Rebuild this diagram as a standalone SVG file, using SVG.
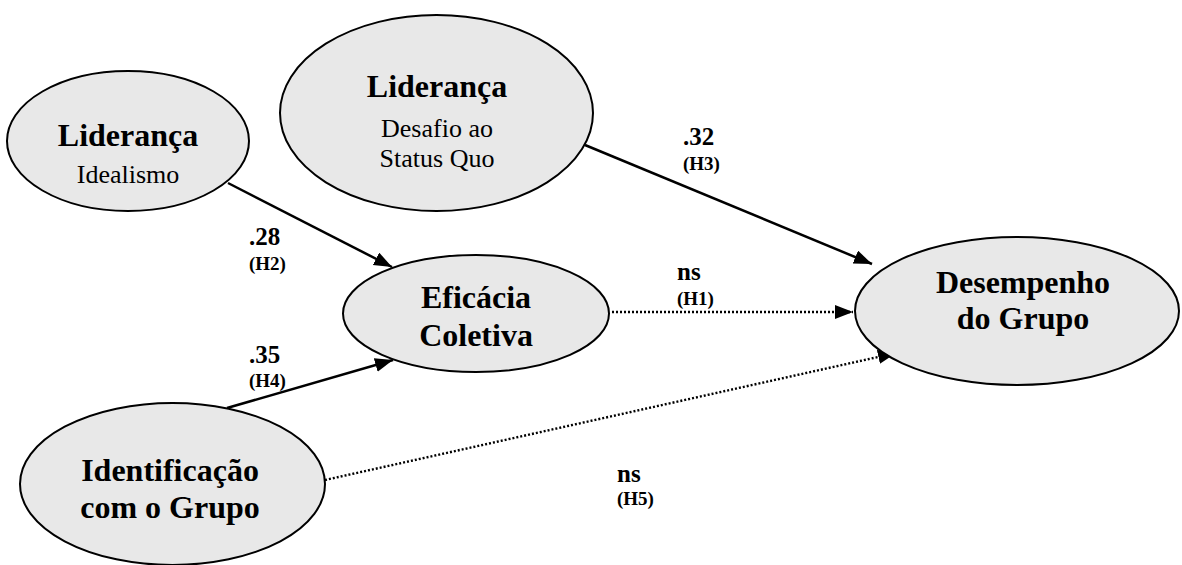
<svg xmlns="http://www.w3.org/2000/svg" width="1182" height="565" viewBox="0 0 1182 565">
<style>
.node ellipse{fill:#e8e8e8;stroke:#000;stroke-width:2}
.t{font-family:"Liberation Serif","Times New Roman",serif;text-anchor:middle;fill:#000}
.b{font-weight:bold;font-size:32px}
.r{font-size:26px}
.lbl{font-family:"Liberation Serif","Times New Roman",serif;font-weight:bold;fill:#000}
.v{font-size:25px}
.h{font-size:19px}
.solid{stroke:#000;stroke-width:2.5;fill:none}
.dot{stroke:#000;stroke-width:2.4;fill:none;stroke-dasharray:2 2}
</style>
<defs>
<marker id="ah" markerUnits="userSpaceOnUse" markerWidth="20" markerHeight="16" refX="18" refY="7" orient="auto">
<path d="M0,0 L18,7 L0,14 z" fill="#000"/>
</marker>
</defs>
<rect width="1182" height="565" fill="#fff"/>
<g id="connectors">
<line class="solid" x1="228" y1="183" x2="392" y2="267" marker-end="url(#ah)"/>
<line class="solid" x1="227" y1="408" x2="393" y2="360" marker-end="url(#ah)"/>
<line class="solid" x1="585" y1="145" x2="872" y2="264" marker-end="url(#ah)"/>
<line class="dot" x1="612" y1="312" x2="853" y2="312" marker-end="url(#ah)"/>
<line class="dot" x1="325" y1="480" x2="896" y2="353" marker-end="url(#ah)"/>
</g>
<g id="lider-idealismo" class="node">
<ellipse cx="128" cy="141" rx="121" ry="70"/>
<text class="t b" x="128" y="146">Liderança</text>
<text class="t r" x="128" y="183">Idealismo</text>
</g>
<g id="lider-desafio" class="node">
<ellipse cx="436.5" cy="113" rx="156.5" ry="98"/>
<text class="t b" x="437" y="97">Liderança</text>
<text class="t r" x="437" y="137">Desafio ao</text>
<text class="t r" x="437" y="167">Status Quo</text>
</g>
<g id="eficacia" class="node">
<ellipse cx="476" cy="313.5" rx="133" ry="58.5"/>
<text class="t b" x="476" y="308">Eficácia</text>
<text class="t b" x="476" y="346">Coletiva</text>
</g>
<g id="desempenho" class="node">
<ellipse cx="1017" cy="311" rx="162" ry="74"/>
<text class="t b" x="1023" y="293">Desempenho</text>
<text class="t b" x="1023" y="329">do Grupo</text>
</g>
<g id="identificacao" class="node">
<ellipse cx="172.5" cy="484" rx="152.5" ry="81"/>
<text class="t b" x="170" y="481">Identificação</text>
<text class="t b" x="170" y="518">com o Grupo</text>
</g>
<g id="labels">
<text class="lbl v" x="249" y="245">.28</text>
<text class="lbl h" x="249" y="270">(H2)</text>
<text class="lbl v" x="249" y="363">.35</text>
<text class="lbl h" x="249" y="387">(H4)</text>
<text class="lbl v" x="683" y="145">.32</text>
<text class="lbl h" x="683" y="170">(H3)</text>
<text class="lbl v" x="677" y="280">ns</text>
<text class="lbl h" x="677" y="305">(H1)</text>
<text class="lbl v" x="617" y="482">ns</text>
<text class="lbl h" x="617" y="505">(H5)</text>
</g>
</svg>
